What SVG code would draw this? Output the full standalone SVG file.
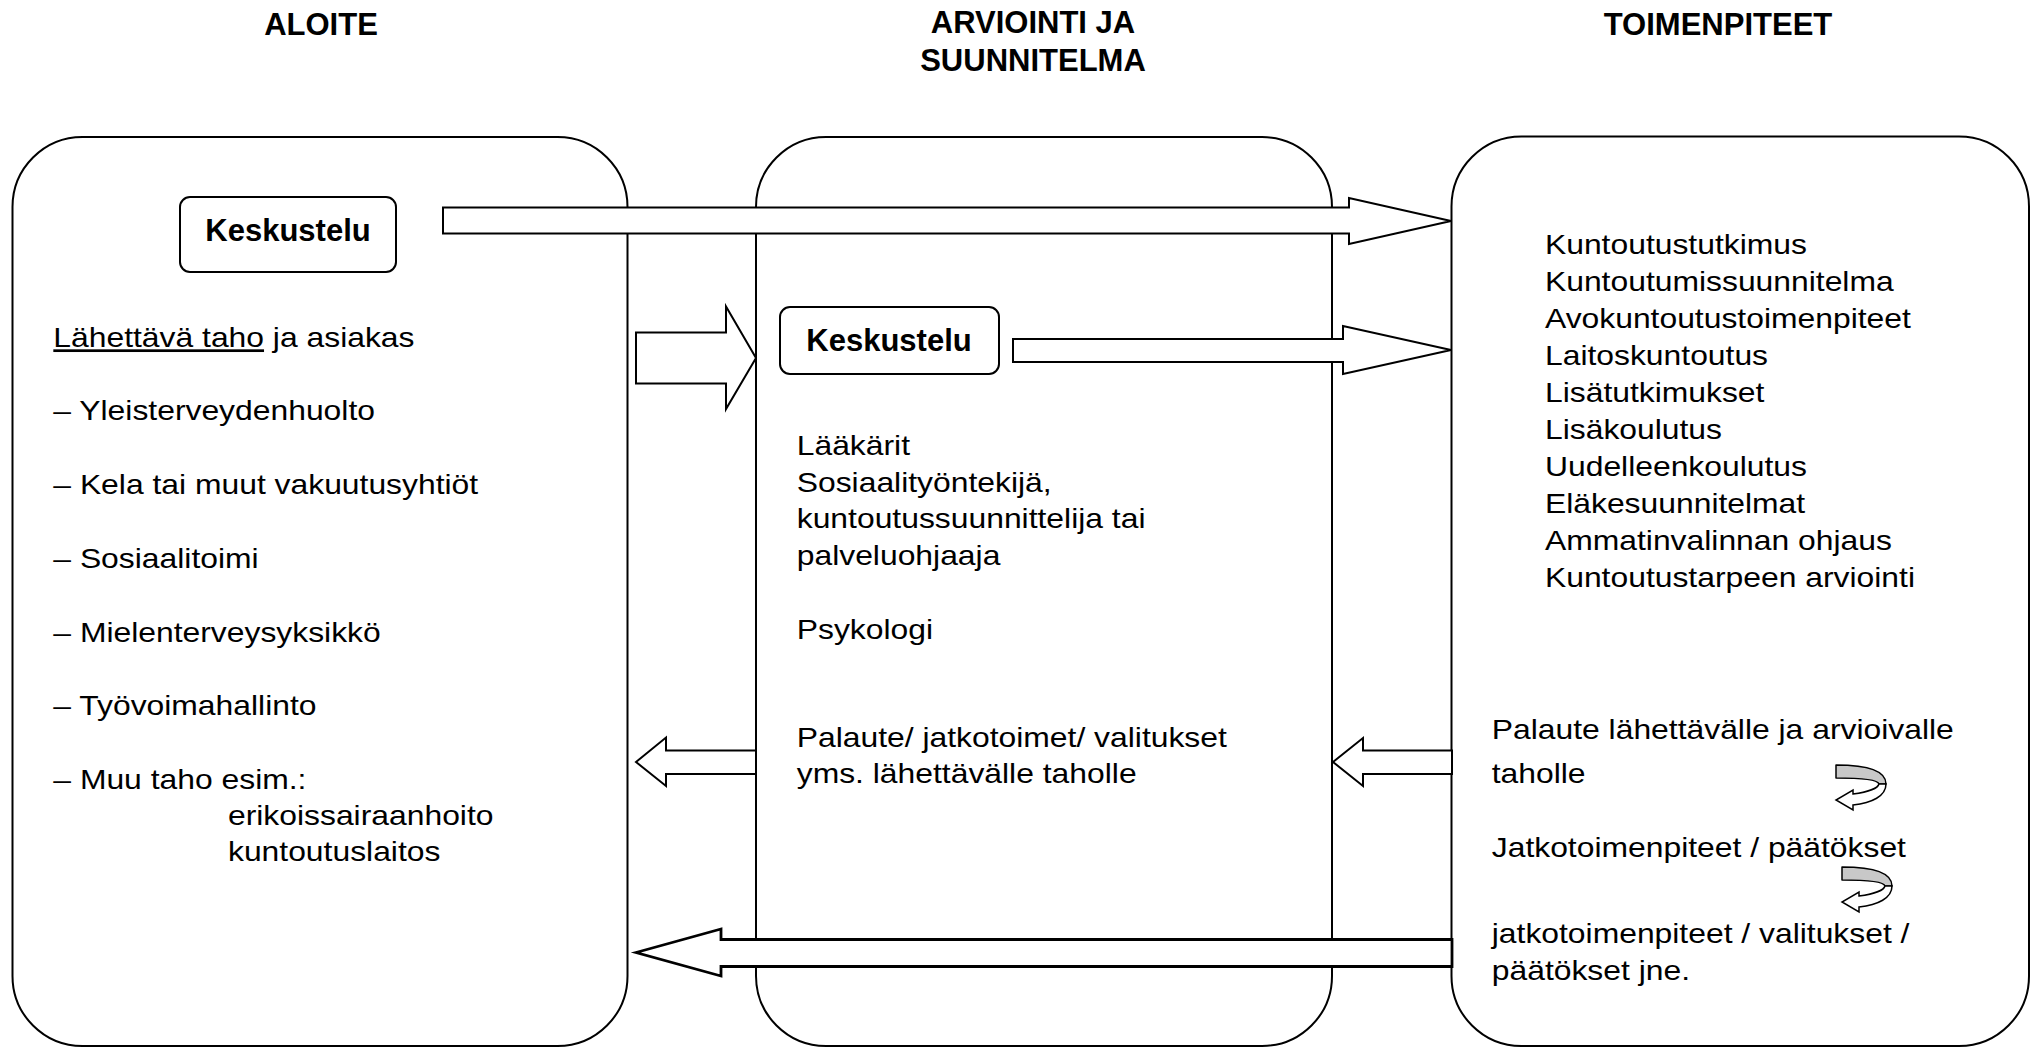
<svg xmlns="http://www.w3.org/2000/svg" width="2033" height="1049" viewBox="0 0 2033 1049">
<style>
.box{fill:none;stroke:#000;stroke-width:2}
.kbox{fill:#fff;stroke:#000;stroke-width:2}
.arrow{fill:#fff;stroke:#000;stroke-width:2;stroke-linejoin:miter}
.thick{stroke-width:2.8}
.title{font-family:"Liberation Sans",Arial,sans-serif;font-weight:bold;font-size:31px;text-anchor:middle;fill:#000}
.body{font-family:"Liberation Sans",Arial,sans-serif;font-size:27px;fill:#000}
.ul{text-decoration:underline}
.curlGray{fill:#c8c8c8;stroke:#000;stroke-width:1.5;stroke-linejoin:round}
.curlWhite{fill:#fff;stroke:#000;stroke-width:1.5;stroke-linejoin:miter}
</style>
<defs>
<g id="curl">
<path class="curlGray" d="M0,0 C34,0 50,7 50,19 L43,19 C42,15 26,13 0,13 Z"/>
<path class="curlWhite" d="M50,19 C50,31 36,38 17,40 L17,45 L0,35 L17,25 L17,29 C32,27 42,23 43,19 Z"/>
</g>
</defs>
<rect width="2033" height="1049" fill="#fff"/>

<g id="titles">
<text class="title" x="321" y="35">ALOITE</text>
<text class="title" x="1033" y="33">ARVIOINTI JA</text>
<text class="title" x="1033" y="71">SUUNNITELMA</text>
<text class="title" x="1718" y="35">TOIMENPITEET</text>
</g>

<g id="node-aloite">
<rect class="box" x="12.5" y="137" width="615" height="909" rx="70" ry="70"/>
<g transform="scale(1.18 1)" class="body">
<text x="45.2" y="347.5"><tspan class="ul">Lähettävä taho</tspan> ja asiakas</text>
<text x="45.2" y="420">– Yleisterveydenhuolto</text>
<text x="45.2" y="494">– Kela tai muut vakuutusyhtiöt</text>
<text x="45.2" y="568">– Sosiaalitoimi</text>
<text x="45.2" y="642">– Mielenterveysyksikkö</text>
<text x="45.2" y="715.5">– Työvoimahallinto</text>
<text x="45.2" y="789">– Muu taho esim.:</text>
<text x="193.2" y="825">erikoissairaanhoito</text>
<text x="193.2" y="861">kuntoutuslaitos</text>
</g>
</g>

<g id="node-arviointi">
<rect class="box" x="756" y="137" width="576" height="909" rx="70" ry="70"/>
<g transform="scale(1.18 1)" class="body">
<text x="675.2" y="455">Lääkärit</text>
<text x="675.2" y="491.7">Sosiaalityöntekijä,</text>
<text x="675.2" y="528.3">kuntoutussuunnittelija tai</text>
<text x="675.2" y="565">palveluohjaaja</text>
<text x="675.2" y="639.3">Psykologi</text>
<text x="675.2" y="746.7">Palaute/ jatkotoimet/ valitukset</text>
<text x="675.2" y="783.3">yms. lähettävälle taholle</text>
</g>
</g>

<g id="node-toimenpiteet">
<rect class="box" x="1451.5" y="136.5" width="577.5" height="909.5" rx="70" ry="70"/>
<g transform="scale(1.18 1)" class="body">
<text x="1309.3" y="254.3">Kuntoutustutkimus</text>
<text x="1309.3" y="291.3">Kuntoutumissuunnitelma</text>
<text x="1309.3" y="328.2">Avokuntoutustoimenpiteet</text>
<text x="1309.3" y="365.2">Laitoskuntoutus</text>
<text x="1309.3" y="402.1">Lisätutkimukset</text>
<text x="1309.3" y="439.1">Lisäkoulutus</text>
<text x="1309.3" y="476">Uudelleenkoulutus</text>
<text x="1309.3" y="513">Eläkesuunnitelmat</text>
<text x="1309.3" y="550">Ammatinvalinnan ohjaus</text>
<text x="1309.3" y="586.9">Kuntoutustarpeen arviointi</text>
<text x="1264.2" y="739.5">Palaute lähettävälle ja arvioivalle</text>
<text x="1264.2" y="783">taholle</text>
<text x="1264.2" y="857">Jatkotoimenpiteet / päätökset</text>
<text x="1264.2" y="943.5">jatkotoimenpiteet / valitukset /</text>
<text x="1264.2" y="980">päätökset jne.</text>
</g>
<use href="#curl" transform="translate(1836 765)"/>
<use href="#curl" transform="translate(1842 867)"/>
</g>

<g id="connectors">
<polygon class="arrow" points="443,207.5 1349,207.5 1349,198 1451,221 1349,244 1349,233.5 443,233.5"/>
<polygon class="arrow" points="1013,339 1343,339 1343,326 1451,350 1343,374 1343,362 1013,362"/>
<polygon class="arrow" points="636,332.5 726,332.5 726,306.5 756,358 726,409 726,383.5 636,383.5"/>
<polygon class="arrow" points="636,762 666,737.5 666,750.5 756,750.5 756,774 666,774 666,786"/>
<polygon class="arrow" points="1333,762 1363,738 1363,750.5 1452,750.5 1452,774 1363,774 1363,786"/>
<polygon class="arrow thick" points="636,952.5 721,929 721,939.5 1452,939.5 1452,966.5 721,966.5 721,976"/>
</g>

<g id="node-keskustelu-1">
<rect class="kbox" x="180" y="197" width="216" height="75" rx="10" ry="10"/>
<text class="title" x="288" y="241">Keskustelu</text>
</g>

<g id="node-keskustelu-2">
<rect class="kbox" x="780" y="307" width="219" height="67" rx="10" ry="10"/>
<text class="title" x="889" y="351">Keskustelu</text>
</g>
</svg>
